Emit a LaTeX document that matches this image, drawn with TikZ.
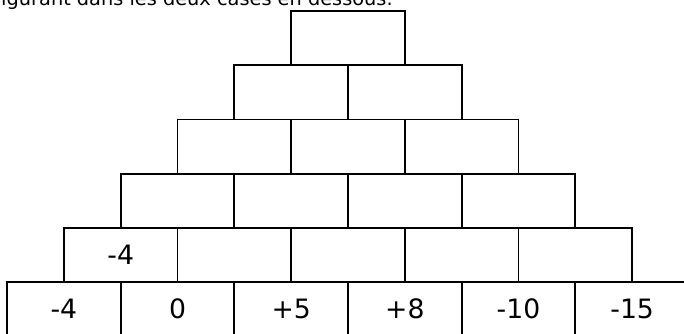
\documentclass[tikz,border=0pt]{standalone}
\usepackage{fontspec}
\setmainfont{DejaVu Sans}
\usepackage{xcolor}
\usepackage{tikz}
\usetikzlibrary{positioning}

\tikzset{
  brick/.style={draw, rectangle, line width=1.35pt, inner sep=0pt, outer sep=0pt,
    minimum width=85.25pt, minimum height=40.65pt,
    font=\fontsize{20}{24}\selectfont}
}

\begin{document}
\begin{tikzpicture}
        \useasboundingbox (0,0) rectangle (513pt,-249.75pt);
        \node[anchor=base east, font=\fontsize{14.5}{17}\selectfont] (consigne) at (298pt,-4.2pt) {figurant dans les deux cases en dessous.};
%
        \node[brick] (a1) at (47.875pt,-231.825pt) {-4};
        \node[brick, right=0pt of a1] (a2) {0};
        \node[brick, right=0pt of a2] (a3) {+5};
        \node[brick, right=0pt of a3] (a4) {+8};
        \node[brick, right=0pt of a4] (a5) {-10};
        \node[brick, right=0pt of a5] (a6) {-15};
%
        \node[brick, above right=0pt of a1.north] (b1) {-4};
        \node[brick, right=0pt of b1] (b2) {};
        \node[brick, right=0pt of b2] (b3) {};
        \node[brick, right=0pt of b3] (b4) {};
        \node[brick, right=0pt of b4] (b5) {};
%
        \node[brick, above right=0pt of b1.north] (c1) {};
        \node[brick, right=0pt of c1] (c2) {};
        \node[brick, right=0pt of c2] (c3) {};
        \node[brick, right=0pt of c3] (c4) {};
%
        \node[brick, above right=0pt of c1.north] (d1) {};
        \node[brick, right=0pt of d1] (d2) {};
        \node[brick, right=0pt of d2] (d3) {};
%
        \node[brick, above right=0pt of d1.north] (e1) {};
        \node[brick, right=0pt of e1] (e2) {};
%
        \node[brick, above right=0pt of e1.north] (f1) {};
\end{tikzpicture}
\end{document}
